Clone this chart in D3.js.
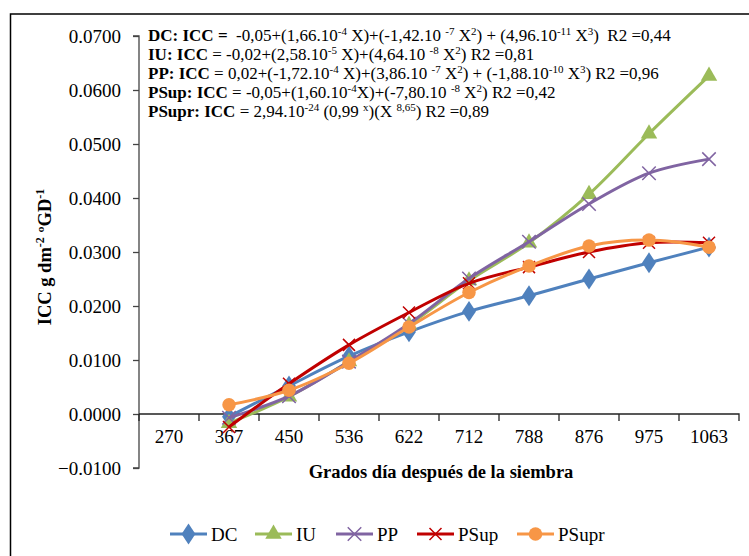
<!DOCTYPE html>
<html lang="es">
<head>
<meta charset="utf-8">
<script src="https://d3js.org/d3.v7.min.js"></script>
<style>
    body { margin: 0; background: white; }
    svg text { font-family: "Liberation Serif", "Times New Roman", serif; fill: black; white-space: pre; }
    .tick text { font-size: 19px; }
    .eq { font-size: 17px; }
    .title { font-size: 18.5px; font-weight: bold; }
    .legend text { font-size: 19px; }
</style>
</head>
<body>
<script>
    // categorias del eje x (grados dia)
    let categories = ['270', '367', '450', '536', '622', '712', '788', '876', '975', '1063'];
    let yTicks = [-0.01, 0, 0.01, 0.02, 0.03, 0.04, 0.05, 0.06, 0.07];

    // valores, desde 367
    let pointCats = ['367', '450', '536', '622', '712', '788', '876', '975', '1063'];
    let dcValues = [-0.0005, 0.0052, 0.0107, 0.0152, 0.0190, 0.0219, 0.0250, 0.0280, 0.0309];
    let iuValues = [-0.0017, 0.0032, 0.0097, 0.0165, 0.0247, 0.0317, 0.0407, 0.0519, 0.0626];
    let ppValues = [-0.0007, 0.0033, 0.0097, 0.0167, 0.0251, 0.0319, 0.0389, 0.0446, 0.0472];
    let psupValues = [-0.0024, 0.0056, 0.0128, 0.0188, 0.0242, 0.0272, 0.0300, 0.0317, 0.0317];
    let psuprValues = [0.0017, 0.0044, 0.0094, 0.0161, 0.0225, 0.0274, 0.0311, 0.0322, 0.0309];

    let seriesNames = ['DC', 'IU', 'PP', 'PSup', 'PSupr'];
    let seriesColors = ['#4f81bd', '#9bbb59', '#8064a2', '#c00000', '#f79646'];
    let seriesMarkers = ['diamond', 'triangle', 'cross', 'cross', 'circle'];

    let series = [dcValues, iuValues, ppValues, psupValues, psuprValues].map(function (vals, i) {
        return {
            name: seriesNames[i], color: seriesColors[i], marker: seriesMarkers[i],
            points: vals.map(function (v, j) { return {cat: pointCats[j], v: v}; })
        };
    });

    // ecuaciones: [texto, estilo]  b = negrita, s = superindice
    let equations = [
        [['DC: ICC =', 'b'], ['  -0,05+(1,66.10'], ['-4', 's'], [' X)+(-1,42.10 '], ['-7', 's'], [' X'], ['2', 's'],
            [') + (4,96.10'], ['-11', 's'], [' X'], ['3', 's'], [')  R2 =0,44']],
        [['IU: ICC', 'b'], [' = -0,02+(2,58.10'], ['-5', 's'], [' X)+(4,64.10 '], ['-8', 's'], [' X'], ['2', 's'], [') R2 =0,81']],
        [['PP: ICC', 'b'], [' = 0,02+(-1,72.10'], ['-4', 's'], [' X)+(3,86.10 '], ['-7', 's'], [' X'], ['2', 's'],
            [') + (-1,88.10'], ['-10', 's'], [' X'], ['3', 's'], [') R2 =0,96']],
        [['PSup: ICC', 'b'], [' = -0,05+(1,60.10'], ['-4', 's'], ['X)+(-7,80.10 '], ['-8', 's'], [' X'], ['2', 's'], [') R2 =0,42']],
        [['PSupr: ICC', 'b'], [' = 2,94.10'], ['-24', 's'], [' (0,99 '], ['x', 's'], [')(X '], ['8,65', 's'], [') R2 =0,89']]
    ];

    let width = 749, height = 556;
    let svg = d3.select('body').append('svg').attr('width', width).attr('height', height);

    // borde del area del grafico
    svg.append('rect').attr('x', 10.5).attr('y', 14).attr('width', 760).attr('height', 560)
        .attr('fill', 'none').attr('stroke', 'black').attr('stroke-width', 1.5);

    let x = d3.scaleBand().domain(categories).range([139, 739]);
    let y = d3.scaleLinear().domain([-0.01, 0.07]).range([468, 36]);

    // eje y
    let yAxis = d3.axisLeft(y).tickValues(yTicks).tickSize(6).tickPadding(12)
        .tickFormat(d3.format('.4f'));
    let gy = svg.append('g').attr('transform', 'translate(139,0)').call(yAxis);
    gy.attr('font-family', null);
    gy.select('.domain').attr('stroke', '#444').attr('stroke-width', 1.3).attr('d', 'M-6,' + y(0.07) + 'H0V' + y(-0.01) + 'H-6');
    gy.selectAll('.tick line').attr('stroke', '#444').attr('stroke-width', 1.3);

    // eje x en cero
    let xAxis = d3.axisBottom(x).tickSize(0).tickPadding(16);
    let gx = svg.append('g').attr('transform', 'translate(0,' + y(0) + ')').call(xAxis);
    gx.attr('font-family', null);
    gx.select('.domain').attr('stroke', '#222').attr('stroke-width', 1.3).attr('d', 'M139,0H739V7');
    gx.selectAll('.tick text').attr('dy', '0.71em');
    gx.selectAll('.tk').data(categories).enter().append('line')
        .attr('x1', function (d) { return x(d); }).attr('x2', function (d) { return x(d); })
        .attr('y1', 0).attr('y2', 7).attr('stroke', '#222').attr('stroke-width', 1.3);

    // titulos
    svg.append('text').attr('class', 'title').attr('x', 441).attr('y', 478)
        .attr('text-anchor', 'middle').text('Grados día después de la siembra');

    let yt = svg.append('text').attr('class', 'title').attr('text-anchor', 'middle')
        .attr('transform', 'translate(51,257) rotate(-90)');
    yt.append('tspan').text('ICC g dm');
    yt.append('tspan').attr('dy', -7).style('font-size', '12px').text('-2');
    yt.append('tspan').attr('dy', 7).text(' ºGD');
    yt.append('tspan').attr('dy', -7).style('font-size', '12px').text('-1');

    // ecuaciones
    equations.forEach(function (line, i) {
        let t = svg.append('text').attr('class', 'eq').attr('x', 148).attr('y', 40.5 + i * 19);
        let up = false;
        line.forEach(function (seg) {
            let sp = t.append('tspan').text(seg[0]);
            if (seg[1] === 'b') sp.style('font-weight', 'bold');
            if (seg[1] === 's') {
                sp.style('font-size', '11px').attr('dy', up ? 0 : -6);
                up = true;
            } else if (up) {
                sp.attr('dy', 6);
                up = false;
            }
        });
    });

    let line = d3.line()
        .x(function (d) { return x(d.cat) + x.bandwidth() / 2; })
        .y(function (d) { return y(d.v); })
        .curve(d3.curveCatmullRom.alpha(0.5));

    function drawMarker(g, type, color, size) {
        if (type === 'diamond') {
            g.append('path').attr('d', d3.symbol(d3.symbolDiamond, size * 14)()).attr('fill', color)
                .attr('transform', 'scale(1.15,1)');
        } else if (type === 'triangle') {
            g.append('path').attr('d', d3.symbol(d3.symbolTriangle, size * 13)()).attr('fill', color);
        } else if (type === 'circle') {
            g.append('circle').attr('r', size * 0.75).attr('fill', color);
        } else {
            let s = size * 0.75;
            g.append('path').attr('d', 'M' + (-s) + ',' + (-s) + 'L' + s + ',' + s + 'M' + (-s) + ',' + s + 'L' + s + ',' + (-s))
                .attr('stroke', color).attr('stroke-width', 1.5).attr('fill', 'none');
        }
    }

    let plot = svg.append('g');
    series.forEach(function (s) {
        let g = plot.append('g');
        g.append('path').datum(s.points).attr('d', line)
            .attr('fill', 'none').attr('stroke', s.color).attr('stroke-width', 3);
        g.selectAll('g.m').data(s.points).enter().append('g')
            .attr('transform', function (d) {
                return 'translate(' + (x(d.cat) + x.bandwidth() / 2) + ',' + y(d.v) + ')';
            })
            .each(function () {
                drawMarker(d3.select(this), s.marker, s.color, s.name === 'PSup' ? 8 : 9);
            });
    });

    // leyenda
    let legendX = d3.scaleOrdinal().domain(seriesNames).range([170, 255, 336, 417, 517]);
    let lg = svg.append('g').attr('class', 'legend');
    series.forEach(function (s) {
        let g = lg.append('g').attr('transform', 'translate(' + legendX(s.name) + ',534)');
        g.append('line').attr('x1', 0).attr('x2', 37).attr('stroke', s.color).attr('stroke-width', 3);
        let m = g.append('g').attr('transform', 'translate(18.5,0)');
        drawMarker(m, s.marker, s.color, s.name === 'PSup' ? 8 : 9);
        g.append('text').attr('x', 41).attr('dy', '0.35em').text(s.name);
    });
</script>
</body>
</html>
